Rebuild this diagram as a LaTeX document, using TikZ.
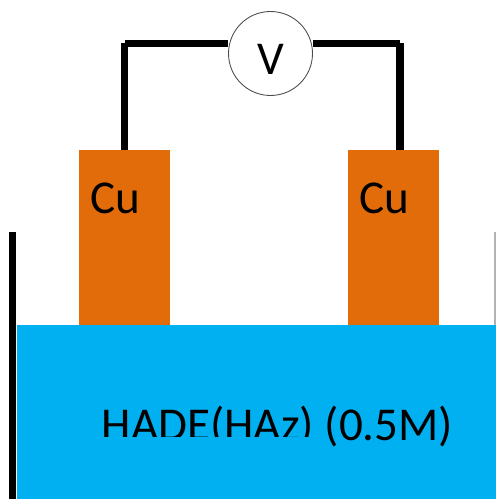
\documentclass[tikz,border=0pt]{standalone}
\usepackage{fontspec}
\setmainfont{Carlito}
\definecolor{copper}{HTML}{E36C0A}
\definecolor{liquid}{HTML}{00B0F0}
\tikzset{electrode/.style={fill=copper,minimum width=1.82cm,minimum height=3.5cm,inner sep=0pt},
wire/.style={line width=4.1pt},
label/.style={font=\fontsize{26.8}{30}\selectfont,inner sep=0pt}}
\begin{document}
\begin{tikzpicture}[x=0.02cm,y=-0.02cm]
\useasboundingbox (0,0) rectangle (496,499);
\node[electrode] (cul) at (124.5,237.5) {};
\node[electrode] (cur) at (393,237.5) {};
\fill[liquid] (17,325) rectangle (496,499);
\node[draw=black!70,circle,line width=0.5pt,minimum size=1.68cm,inner sep=0pt] (volt) at (270.5,53.5) {};
\node[label,anchor=base] (vlab) at (271,75) {V};
\coordinate (tl) at (125,43.5);
\coordinate (tr) at (400,43.5);
\draw[wire] (cul.north) -- (cul.north|-tl);
\draw[wire] (tl) -- (tl-|volt.west);
\draw[wire] (tr-|volt.east) -- (tr);
\draw[wire] (tr) -- (tr|-cur.north);
\draw[line width=4.5pt] (12.5,232) -- (12.5,499);
\draw[line width=0.6pt,black!30] (495,232) -- (495,325);
\node[label,anchor=base] (cutl) at (115.5,214) {Cu};
\node[label,anchor=base] (cutr) at (384.5,214) {Cu};
\node[label,anchor=base west] (liq) at (101.5,440) {HADE(HAz) (0.5M)};
% bottom of the letters is cut off
\fill[liquid] (95,436.5) rectangle (316,452);
\end{tikzpicture}
\end{document}
